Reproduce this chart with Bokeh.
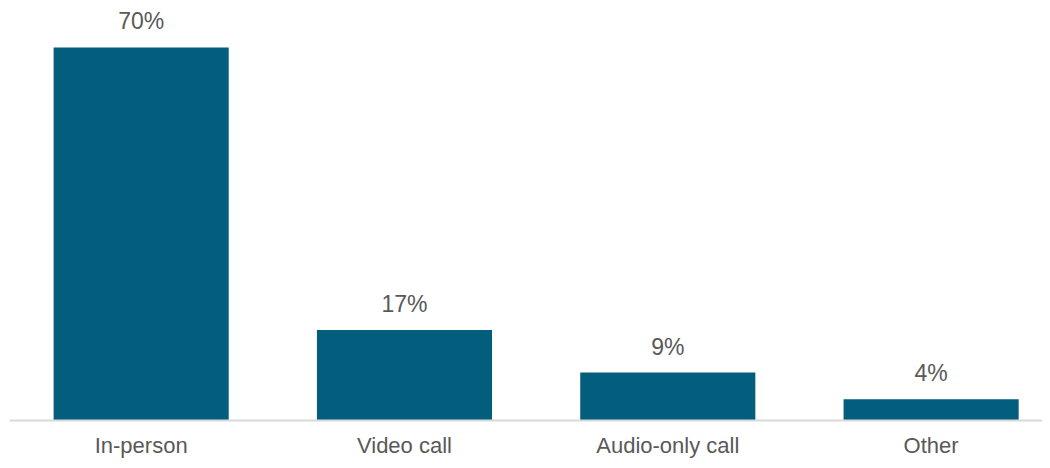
from bokeh.plotting import figure
from bokeh.models import ColumnDataSource, Range1d, FixedTicker
from bokeh.core.properties import value
from bokeh.embed import file_html
from bokeh.resources import INLINE
import numpy as np

categories = ["In-person", "Video call", "Audio-only call", "Other"]
shares = [70, 17, 9, 4]
share_labels = ["70%", "17%", "9%", "4%"]

FONT = "Liberation Sans"
BAR = "#035D7D"
TXT = "#595959"

idx = list(np.arange(len(categories)))
src = ColumnDataSource(dict(x=idx, top=shares, lab=share_labels))

p = figure(width=1042, height=460, output_backend="svg", toolbar_location=None,
           x_range=Range1d(-0.5, 3.423), y_range=Range1d(0, 78.8),
           min_border_left=9, min_border_right=0, min_border_top=0, min_border_bottom=40)
p.vbar(x="x", top="top", bottom=0, width=0.665, source=src, color=BAR, line_color=None)
p.text(x="x", y="top", text="lab", source=src, text_align="center", text_baseline="alphabetic",
       y_offset=-26, text_font=value(FONT), text_font_size="23px", text_color=TXT)

p.yaxis.visible = False
p.xgrid.visible = False
p.ygrid.visible = False
p.outline_line_color = None
ax = p.xaxis[0]
ax.ticker = FixedTicker(ticks=idx)
ax.major_label_overrides = {int(i): c for i, c in zip(idx, categories)}
ax.major_tick_line_color = None
ax.minor_tick_line_color = None
ax.axis_line_color = "#D9D9D9"
ax.axis_line_width = 2
ax.major_label_standoff = 6
ax.major_label_text_font = FONT
ax.major_label_text_font_size = "22px"
ax.major_label_text_color = TXT

open("out.html", "w").write(file_html(p, INLINE))
